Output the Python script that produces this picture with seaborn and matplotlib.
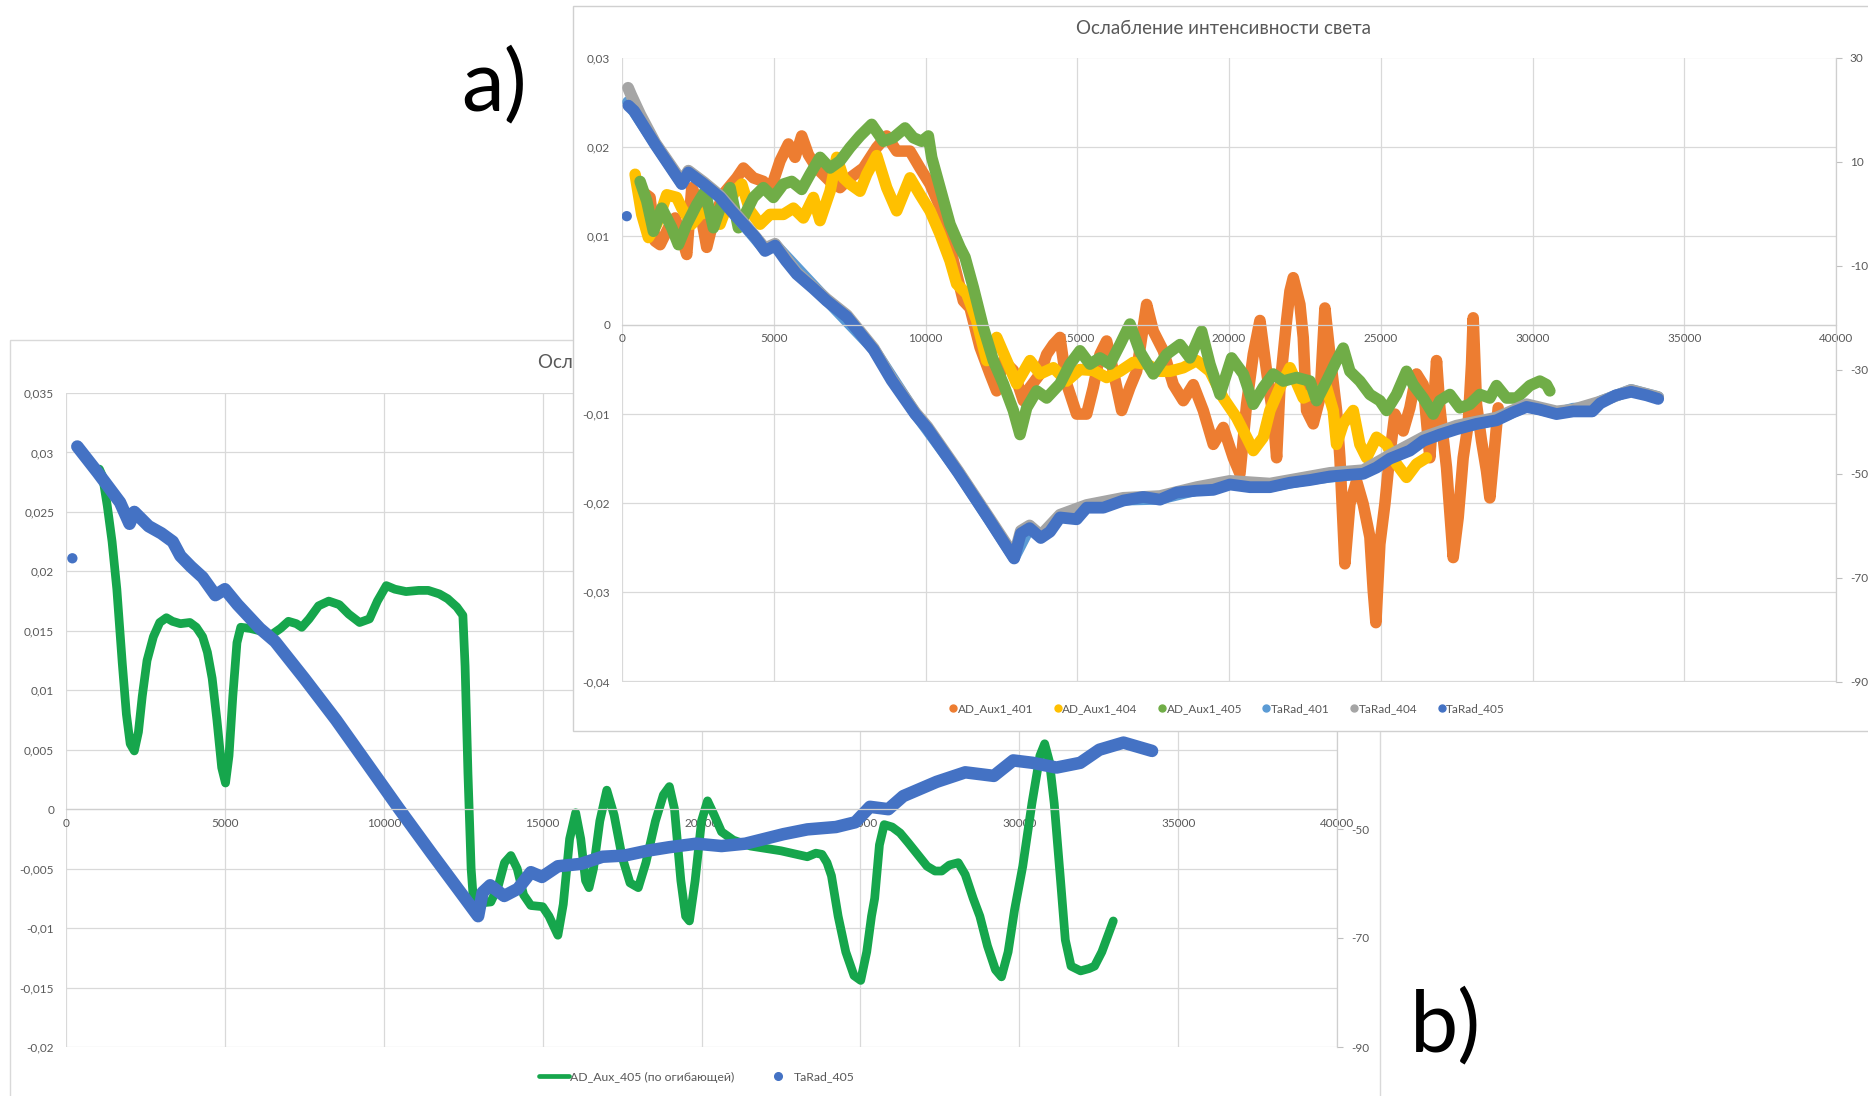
import matplotlib
matplotlib.use('Agg')
import matplotlib.pyplot as plt
from matplotlib.patches import Rectangle
from matplotlib.lines import Line2D
import seaborn as sns

# ---------- панель a) ----------
a_title = 'Ослабление интенсивности света'
a_labels = ['AD_Aux1_401', 'AD_Aux1_404', 'AD_Aux1_405', 'TaRad_401', 'TaRad_404', 'TaRad_405']
a_colors = ['#ED7D31', '#FFC000', '#70AD47', '#5B9BD5', '#A5A5A5', '#4472C4']

aux401_x = [650, 926, 1090, 1255, 1530, 1750, 1950, 2134, 2298, 2518, 2792, 3012, 3341, 3780, 4000, 4329,
            4659, 4878, 5208, 5482, 5702, 5921, 6141, 6416, 6855, 7184, 7514, 7953, 8392, 8721, 9051, 9490,
            9820, 10149, 10588, 10918, 11247, 11467, 11796, 12125, 12345, 12565, 12894, 13224, 13443, 13772,
            13992, 14212, 14431, 14651, 14980, 15310, 15529, 15749, 15968, 16188, 16463, 16737, 16957, 17286,
            17506, 17835, 18165, 18494, 18823, 19153, 19482, 19812, 20141, 20361, 20580, 20800, 21020, 21239,
            21459, 21569, 21678, 21898, 22008, 22117, 22337, 22446, 22556, 22775, 22995, 23160, 23324, 23544,
            23654, 23818, 23983, 24203, 24422, 24642, 24752, 24840, 24971, 25136, 25300, 25465, 25740, 25960,
            26179, 26399, 26618, 26728, 26838, 26948, 27167, 27387, 27552, 27716, 27881, 27991, 28046, 28156,
            28320, 28485, 28595, 28760, 28869]
aux401_y = [0.0150, 0.0143, 0.0094, 0.0090, 0.0109, 0.0120, 0.0100, 0.0079, 0.0154, 0.0139, 0.0087, 0.0117,
            0.0147, 0.0165, 0.0176, 0.0165, 0.0161, 0.0150, 0.0184, 0.0203, 0.0188, 0.0212, 0.0191, 0.0176,
            0.0161, 0.0154, 0.0165, 0.0176, 0.0199, 0.0212, 0.0195, 0.0195, 0.0176, 0.0158, 0.0124, 0.0072,
            0.0027, 0.0019, -0.0025, -0.0055, -0.0074, -0.0040, -0.0051, -0.0085, -0.0070, -0.0055, -0.0033,
            -0.0022, -0.0014, -0.0066, -0.0100, -0.0100, -0.0070, -0.0033, -0.0018, -0.0052, -0.0096, -0.0070,
            -0.0052, 0.0023, -0.0007, -0.0029, -0.0067, -0.0085, -0.0067, -0.0096, -0.0134, -0.0115, -0.0149,
            -0.0167, -0.0089, -0.0033, 0.0005, -0.0052, -0.0104, -0.0149, -0.0070, 0.0005, 0.0038, 0.0053,
            0.0023, -0.0014, -0.0096, -0.0111, -0.0082, 0.0019, -0.0033, -0.0096, -0.0149, -0.0268, -0.0201,
            -0.0175, -0.0201, -0.0238, -0.0298, -0.0334, -0.0246, -0.0201, -0.0145, -0.0100, -0.0119, -0.0093,
            -0.0055, -0.0067, -0.0149, -0.0096, -0.0040, -0.0093, -0.0160, -0.0261, -0.0216, -0.0149, -0.0111,
            -0.0044, 0.0008, -0.0089, -0.0130, -0.0164, -0.0194, -0.0134, -0.0093]

aux404_x = [432, 651, 871, 1145, 1475, 1804, 1969, 2298, 2573, 2902, 3231, 3396, 3725, 3945, 4220, 4549,
            4878, 5318, 5647, 5976, 6306, 6525, 6855, 7074, 7294, 7514, 7843, 8063, 8392, 8721, 9051, 9490,
            9820, 10149, 10478, 10808, 11027, 11357, 11686, 12015, 12345, 12674, 13004, 13443, 13772, 14212,
            14651, 15090, 15529, 15968, 16408, 16847, 17286, 17725, 18055, 18494, 18933, 19372, 19812, 20251,
            20580, 20800, 21129, 21349, 21678, 22008, 22447, 22886, 23214, 23434, 23544, 23763, 24093, 24312,
            24532, 24861, 25191, 25520, 25849, 26179, 26508]
aux404_y = [0.0169, 0.0124, 0.0098, 0.0113, 0.0146, 0.0143, 0.0131, 0.0113, 0.0124, 0.0128, 0.0113, 0.0128,
            0.0150, 0.0158, 0.0128, 0.0113, 0.0124, 0.0124, 0.0131, 0.0120, 0.0143, 0.0117, 0.0150, 0.0188,
            0.0165, 0.0158, 0.0150, 0.0169, 0.0190, 0.0154, 0.0128, 0.0165, 0.0146, 0.0128, 0.0102, 0.0072,
            0.0046, 0.0035, 0.0005, -0.0040, -0.0014, -0.0040, -0.0066, -0.0040, -0.0055, -0.0048, -0.0063,
            -0.0050, -0.0051, -0.0059, -0.0052, -0.0042, -0.0044, -0.0052, -0.0052, -0.0048, -0.0040, -0.0052,
            -0.0082, -0.0104, -0.0126, -0.0141, -0.0126, -0.0096, -0.0070, -0.0048, -0.0082, -0.0075, -0.0070,
            -0.0096, -0.0134, -0.0111, -0.0096, -0.0134, -0.0149, -0.0126, -0.0134, -0.0156, -0.0171, -0.0156,
            -0.0149]

aux405_x = [596, 816, 1035, 1310, 1639, 1859, 2134, 2463, 2737, 3012, 3231, 3561, 3835, 4110, 4329, 4659,
            4988, 5318, 5592, 5921, 6196, 6525, 6855, 7184, 7514, 7843, 8227, 8612, 8941, 9325, 9600, 9874,
            10094, 10204, 10478, 10808, 11137, 11302, 11576, 11906, 12235, 12565, 12894, 13114, 13333, 13663,
            13992, 14431, 14760, 15090, 15419, 15749, 16078, 16408, 16737, 17066, 17506, 17945, 18384, 18714,
            19098, 19372, 19702, 20086, 20471, 20800, 21129, 21459, 21788, 22227, 22667, 22886, 23214, 23544,
            23763, 23983, 24312, 24642, 24971, 25191, 25520, 25849, 26069, 26398, 26728, 26948, 27277, 27607,
            27936, 28266, 28595, 28815, 29145, 29474, 29913, 30242, 30462, 30572]
aux405_y = [0.0161, 0.0139, 0.0105, 0.0131, 0.0109, 0.0090, 0.0113, 0.0135, 0.0150, 0.0109, 0.0131, 0.0154,
            0.0109, 0.0128, 0.0143, 0.0154, 0.0143, 0.0158, 0.0161, 0.0152, 0.0169, 0.0188, 0.0176, 0.0184,
            0.0199, 0.0212, 0.0225, 0.0206, 0.0210, 0.0221, 0.0210, 0.0206, 0.0212, 0.0188, 0.0154, 0.0113,
            0.0087, 0.0076, 0.0042, -0.0003, -0.0040, -0.0066, -0.0096, -0.0123, -0.0093, -0.0074, -0.0082,
            -0.0066, -0.0044, -0.0029, -0.0044, -0.0037, -0.0044, -0.0022, 0.0001, -0.0030, -0.0055, -0.0033,
            -0.0022, -0.0037, -0.0007, -0.0044, -0.0078, -0.0037, -0.0055, -0.0089, -0.0070, -0.0055, -0.0063,
            -0.0059, -0.0063, -0.0085, -0.0063, -0.0040, -0.0026, -0.0052, -0.0063, -0.0078, -0.0085, -0.0096,
            -0.0078, -0.0052, -0.0067, -0.0082, -0.0100, -0.0085, -0.0078, -0.0093, -0.0089, -0.0078, -0.0082,
            -0.0068, -0.0082, -0.0082, -0.0068, -0.0063, -0.0067, -0.0074]

tarad401_x = [200, 1100, 1969, 2188, 3231, 4714, 5043, 6745, 8290, 9660, 11080, 12920, 13430, 13800, 14431,
              15310, 16518, 17725, 18933, 20031, 21349, 22667, 24422, 25300, 26399, 27497, 28814, 29803, 30791,
              31340, 31970, 32230, 33250, 34140]
tarad401_y = [0.0250, 0.0203, 0.0159, 0.0172, 0.0144, 0.0084, 0.0090, 0.0028, -0.0027, -0.0099, -0.0165,
              -0.0261, -0.0227, -0.0238, -0.0215, -0.0204, -0.0196, -0.0195, -0.0185, -0.0178, -0.0181, -0.0173,
              -0.0166, -0.0149, -0.0129, -0.0116, -0.0106, -0.0091, -0.0099, -0.0094, -0.0093, -0.0086, -0.0073,
              -0.0081]

tarad404_x = [200, 300, 600, 1100, 1969, 2188, 2700, 3231, 4000, 4714, 5043, 5757, 6745, 7410, 8290, 8880,
              9660, 10060, 11080, 12110, 12920, 13140, 13430, 13800, 14431, 15310, 16518, 17725, 18933, 20031,
              21349, 22667, 23325, 24422, 25300, 26399, 27497, 28814, 29803, 30791, 31340, 32230, 33250, 34140]
tarad404_y = [0.0266, 0.0258, 0.0236, 0.0204, 0.0161, 0.0173, 0.0160, 0.0145, 0.0115, 0.0086, 0.0091, 0.0059,
              0.0029, 0.0011, -0.0026, -0.0060, -0.0098, -0.0114, -0.0164, -0.0217, -0.0259, -0.0231, -0.0225,
              -0.0236, -0.0213, -0.0202, -0.0194, -0.0192, -0.0182, -0.0175, -0.0178, -0.0170, -0.0166, -0.0163,
              -0.0146, -0.0126, -0.0113, -0.0104, -0.0089, -0.0097, -0.0095, -0.0086, -0.0073, -0.0081]

tarad405_x = [212, 400, 1100, 1969, 2188, 2700, 3231, 3600, 4000, 4400, 4714, 5043, 5400, 5757, 6300, 6745,
              7410, 8290, 8880, 9660, 10060, 11080, 12110, 12920, 13140, 13430, 13800, 14102, 14431, 14980,
              15310, 15859, 16518, 17176, 17725, 18274, 18933, 19482, 20031, 20690, 21349, 22008, 22667, 23325,
              24000, 24422, 24861, 25300, 25959, 26399, 26948, 27497, 28156, 28814, 29363, 29803, 30242, 30791,
              31340, 31970, 32230, 32740, 33250, 33760, 34140]
tarad405_y = [0.0246, 0.0240, 0.0202, 0.0158, 0.0171, 0.0158, 0.0143, 0.0128, 0.0113, 0.0098, 0.0083, 0.0089,
              0.0072, 0.0057, 0.0041, 0.0027, 0.0009, -0.0028, -0.0062, -0.0100, -0.0116, -0.0166, -0.0219,
              -0.0262, -0.0234, -0.0228, -0.0239, -0.0232, -0.0216, -0.0218, -0.0205, -0.0205, -0.0197, -0.0193,
              -0.0196, -0.0188, -0.0186, -0.0185, -0.0179, -0.0182, -0.0182, -0.0177, -0.0174, -0.0170, -0.0168,
              -0.0167, -0.0160, -0.0150, -0.0141, -0.0130, -0.0123, -0.0117, -0.0111, -0.0107, -0.0098, -0.0092,
              -0.0095, -0.0100, -0.0097, -0.0097, -0.0088, -0.0079, -0.0075, -0.0079, -0.0083]
tarad405_first_x = [157]
tarad405_first_y = [0.0122]

a_yticks = [0.03, 0.02, 0.01, 0, -0.01, -0.02, -0.03, -0.04]
a_ylabels = ['0,03', '0,02', '0,01', '0', '-0,01', '-0,02', '-0,03', '-0,04']

# ---------- панель b) ----------
b_labels = ['AD_Aux_405 (по огибающей)', 'TaRad_405']
b_colors = ['#16A64C', '#4472C4']

env405_x = [1050, 1150, 1300, 1450, 1600, 1770, 1900, 2020, 2150, 2280, 2400, 2550, 2750, 2950, 3160, 3350,
            3600, 3900, 4100, 4300, 4450, 4600, 4750, 4900, 5020, 5130, 5250, 5380, 5500, 5800, 6100, 6430,
            6750, 7000, 7250, 7420, 7650, 7950, 8270, 8600, 8900, 9240, 9550, 9800, 10080, 10350, 10700, 11100,
            11400, 11750, 12010, 12300, 12490, 12560, 12650, 12750, 12820, 13000, 13370, 13600, 13800, 14000,
            14200, 14400, 14630, 15000, 15200, 15480, 15650, 15850, 16040, 16200, 16350, 16460, 16600, 16800,
            17020, 17250, 17500, 17750, 18010, 18250, 18550, 18800, 18990, 19150, 19350, 19500, 19620, 19800,
            20000, 20190, 20400, 20630, 21000, 21540, 22500, 23330, 23600, 23790, 23950, 24090, 24300, 24540,
            24800, 25010, 25200, 25350, 25450, 25600, 25750, 26000, 26250, 26500, 26800, 27100, 27350, 27560,
            27800, 28080, 28300, 28550, 28760, 29000, 29250, 29440, 29650, 29850, 30110, 30400, 30650, 30800,
            30950, 31100, 31300, 31450, 31630, 31930, 32200, 32370, 32600, 32960]
env405_y = [0.0286, 0.0280, 0.0255, 0.0225, 0.0185, 0.0123, 0.0080, 0.0055, 0.0049, 0.0065, 0.0095, 0.0125,
            0.0145, 0.0157, 0.0161, 0.0158, 0.0156, 0.0157, 0.0153, 0.0145, 0.0132, 0.0110, 0.0075, 0.0035,
            0.0022, 0.0045, 0.0095, 0.0140, 0.0153, 0.0152, 0.0150, 0.0146, 0.0152, 0.0158, 0.0156, 0.0153,
            0.0160, 0.0171, 0.0175, 0.0172, 0.0164, 0.0157, 0.0160, 0.0175, 0.0188, 0.0185, 0.0183, 0.0184,
            0.0184, 0.0181, 0.0177, 0.0170, 0.0163, 0.0120, 0.0030, -0.0050, -0.0076, -0.0079, -0.0078,
            -0.0065, -0.0045, -0.0039, -0.0050, -0.0072, -0.0081, -0.0082, -0.0090, -0.0106, -0.0080, -0.0025,
            -0.0003, -0.0025, -0.0060, -0.0066, -0.0050, -0.0010, 0.0016, -0.0005, -0.0040, -0.0062, -0.0066,
            -0.0045, -0.0010, 0.0012, 0.0019, 0.0000, -0.0060, -0.0090, -0.0094, -0.0060, -0.0010, 0.0007,
            -0.0005, -0.0019, -0.0026, -0.0031, -0.0035, -0.0040, -0.0037, -0.0038, -0.0045, -0.0056, -0.0090,
            -0.0120, -0.0140, -0.0144, -0.0120, -0.0090, -0.0075, -0.0030, -0.0013, -0.0015, -0.0020, -0.0028,
            -0.0038, -0.0048, -0.0052, -0.0052, -0.0047, -0.0045, -0.0055, -0.0075, -0.0090, -0.0115, -0.0135,
            -0.0141, -0.0120, -0.0085, -0.0048, 0.0005, 0.0045, 0.0055, 0.0040, 0.0005, -0.0060, -0.0110,
            -0.0132, -0.0136, -0.0134, -0.0132, -0.0120, -0.0094]

b_tarad_x = [356, 1000, 1700, 2000, 2150, 2600, 3000, 3360, 3600, 3930, 4300, 4700, 5000, 5400, 6100, 6580,
             7500, 8500, 9430, 10490, 11500, 12500, 12970, 13110, 13350, 13790, 14220, 14630, 14980, 15480,
             16200, 16880, 17580, 18280, 18980, 19840, 20630, 21380, 22580, 23330, 24230, 24840, 25300, 25880,
             26350, 27400, 28300, 29200, 29810, 30420, 31170, 31920, 32520, 33280, 34180]
b_tarad_y = [0.0305, 0.0283, 0.0258, 0.0240, 0.0250, 0.0238, 0.0232, 0.0225, 0.0213, 0.0204, 0.0195, 0.0180,
             0.0185, 0.0172, 0.0152, 0.0141, 0.0110, 0.0075, 0.0040, 0.0000, -0.0037, -0.0073, -0.0090,
             -0.0070, -0.0064, -0.0073, -0.0067, -0.0053, -0.0057, -0.0048, -0.0046, -0.0040, -0.0039, -0.0035,
             -0.0032, -0.0029, -0.0031, -0.0029, -0.0021, -0.0017, -0.0015, -0.0011, 0.0002, 0.0000, 0.0011,
             0.0023, 0.0031, 0.0028, 0.0041, 0.0039, 0.0035, 0.0039, 0.0050, 0.0056, 0.0049]
b_tarad_first_x = [200]
b_tarad_first_y = [0.0211]

b_yticks = [0.035, 0.03, 0.025, 0.02, 0.015, 0.01, 0.005, 0, -0.005, -0.01, -0.015, -0.02]
b_ylabels = ['0,035', '0,03', '0,025', '0,02', '0,015', '0,01', '0,005', '0', '-0,005', '-0,01', '-0,015', '-0,02']

# общие оси
x_ticks = [0, 5000, 10000, 15000, 20000, 25000, 30000, 35000, 40000]
x_labels = ['0', '5000', '10000', '15000', '20000', '25000', '30000', '35000', '40000']
right_ticks = [30, 10, -10, -30, -50, -70, -90]
right_labels = ['30', '10', '-10', '-30', '-50', '-70', '-90']

# ---------- оформление ----------
W, H = 1868, 1096
GRID = '#d9d9d9'
TXT = '#595959'

sns.set_theme(style='white')
plt.rcParams['font.family'] = ['Lato', 'DejaVu Sans']

fig = plt.figure(figsize=(W / 100, H / 100), dpi=100)


def box(x0, y0, x1, y1):
    # пиксели (сверху вниз) -> доли фигуры
    return [x0 / W, 1 - y1 / H, (x1 - x0) / W, (y1 - y0) / H]


def style_axes(ax, ylim, yticks, ylabels, z):
    ax.set_zorder(z)
    ax.set_xlim(0, 40000)
    ax.set_ylim(*ylim)
    ax.set_xticks(x_ticks)
    ax.set_xticklabels(x_labels)
    ax.set_yticks(yticks)
    ax.set_yticklabels(ylabels)
    ax.set_axisbelow(True)
    ax.grid(True, color=GRID, linewidth=0.9)
    for s in ['top', 'left', 'right']:
        ax.spines[s].set_visible(False)
    ax.spines['bottom'].set_position(('data', 0))
    ax.spines['bottom'].set_color('#cfcfcf')
    ax.spines['bottom'].set_linewidth(0.9)
    ax.tick_params(axis='x', length=0, pad=6, labelsize=8.5, labelcolor=TXT)
    ax.tick_params(axis='y', length=0, pad=8.5, labelsize=8.5, labelcolor=TXT)
    ax2 = ax.twinx()
    ax2.set_zorder(z + 0.1)
    ax2.set_ylim(-90, 30)
    ax2.set_yticks(right_ticks)
    ax2.set_yticklabels(right_labels)
    for s in ['top', 'left', 'bottom']:
        ax2.spines[s].set_visible(False)
    ax2.spines['right'].set_color('#cfcfcf')
    ax2.spines['right'].set_linewidth(0.9)
    ax2.tick_params(axis='y', length=4, width=0.8, color='#bfbfbf', pad=6, labelsize=8.5, labelcolor=TXT)
    ax2.grid(False)
    return ax2


def thick(ax, xs, ys, color, lw):
    sns.lineplot(x=xs, y=ys, ax=ax, color=color, linewidth=lw, sort=False, estimator=None,
                 solid_capstyle='round', solid_joinstyle='round')


# --- панель b) (задняя) ---
fig.add_artist(Rectangle((9.5 / W, 1 - 1120 / H), 1370 / W, (1120 - 339.5) / H,
                         transform=fig.transFigure, facecolor='white', edgecolor=GRID,
                         linewidth=1, zorder=0.5))
ax_b = fig.add_axes(box(66, 393, 1337, 1047))
style_axes(ax_b, (-0.02, 0.035), b_yticks, b_ylabels, 1)

thick(ax_b, env405_x, env405_y, b_colors[0], 6.3)
thick(ax_b, b_tarad_x, b_tarad_y, b_colors[1], 9.0)
sns.scatterplot(x=b_tarad_first_x, y=b_tarad_first_y, ax=ax_b, color=b_colors[1], s=55,
                edgecolor='none', legend=False)
ax_b.set_xlabel('')
ax_b.set_ylabel('')

b_handles = [Line2D([], [], color=b_colors[0], linewidth=3.4),
             Line2D([], [], color=b_colors[1], marker='o', linestyle='', markersize=5.5)]
ax_b.legend(b_handles, b_labels, loc='center', bbox_to_anchor=(697 / W, 1 - 1077 / H),
            bbox_transform=fig.transFigure, ncol=2, frameon=False, fontsize=8.8,
            labelcolor=TXT, handlelength=2.4, handletextpad=0.1, columnspacing=2.4)
fig.text(685 / W, 1 - 362 / H, a_title, ha='center', va='center', fontsize=13.5,
         color=TXT, zorder=1.5)

# --- панель a) (передняя) ---
fig.add_artist(Rectangle((573 / W, 1 - 730.5 / H), 1320 / W, (730.5 - 6) / H,
                         transform=fig.transFigure, facecolor='white', edgecolor='#d0d0d0',
                         linewidth=1, zorder=2))
ax_a = fig.add_axes(box(622, 57.5, 1836, 681.5))
style_axes(ax_a, (-0.04, 0.03), a_yticks, a_ylabels, 3)

a_series = [(aux401_x, aux401_y), (aux404_x, aux404_y), (aux405_x, aux405_y),
            (tarad401_x, tarad401_y), (tarad404_x, tarad404_y), (tarad405_x, tarad405_y)]
a_widths = [8.3, 8.3, 8.3, 8.5, 8.5, 8.5]
for (xs, ys), c, lw in zip(a_series, a_colors, a_widths):
    thick(ax_a, xs, ys, c, lw)
sns.scatterplot(x=tarad405_first_x, y=tarad405_first_y, ax=ax_a, color=a_colors[5], s=55,
                edgecolor='none', legend=False)
ax_a.set_xlabel('')
ax_a.set_ylabel('')

a_handles = [Line2D([], [], color=c, marker='o', linestyle='', markersize=5) for c in a_colors]
ax_a.legend(a_handles, a_labels, loc='center', bbox_to_anchor=(1227 / W, 1 - 709 / H),
            bbox_transform=fig.transFigure, ncol=6, frameon=False, fontsize=8.5,
            labelcolor=TXT, handlelength=0.7, handletextpad=0.05, columnspacing=1.7)
fig.text(1223 / W, 1 - 28.6 / H, a_title, ha='center', va='center', fontsize=13.5,
         color=TXT, zorder=4)

# подписи панелей
fig.text(494 / W, 1 - 86 / H, 'a)', ha='center', va='center', fontsize=62, color='black', zorder=5)
fig.text(1445 / W, 1 - 1027 / H, 'b)', ha='center', va='center', fontsize=62, color='black', zorder=5)

fig.savefig('out.png', dpi=100, facecolor='white')
